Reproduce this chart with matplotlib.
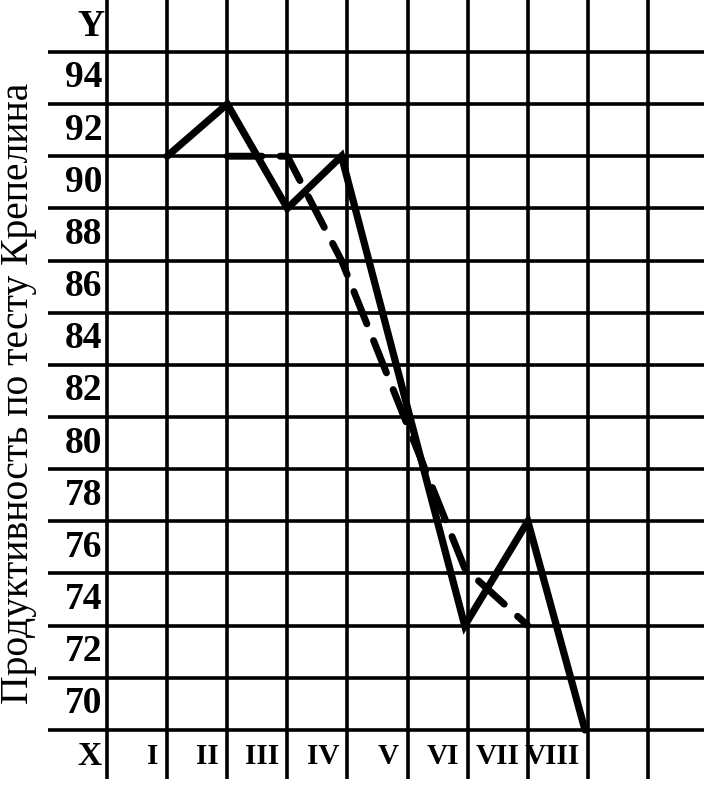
import matplotlib.pyplot as plt

# values
weeks = ['I', 'II', 'III', 'IV', 'V', 'VI', 'VII', 'VIII']
y_labels = [70, 72, 74, 76, 78, 80, 82, 84, 86, 88, 90, 92, 94]

solid_x = [1.5, 2.5, 3.5, 4.4, 6.45, 7.5, 8.45]
solid_y = [91, 93, 89, 91, 73, 77, 69]

dashed_x = [2.5, 3.5, 4.4, 6.45, 7.5]
dashed_y = [91, 91, 87, 75.2, 73]

grid_x = [0.5, 1.5, 2.5, 3.5, 4.5, 5.5, 6.5, 7.5, 8.5, 9.5]
grid_y = [69, 71, 73, 75, 77, 79, 81, 83, 85, 87, 89, 91, 93, 95]

plt.rcParams['font.family'] = ['Liberation Serif', 'DejaVu Serif']

fig = plt.figure(figsize=(7.04, 7.86), dpi=100)
ax = fig.add_axes([0, 0, 1, 1])
ax.set_xlim(-1.28, 10.43)
ax.set_ylim(66.85, 96.99)
ax.axis('off')

# grid of the paper
ax.hlines(grid_y, -0.48, 10.43, color='black', lw=2.6)
ax.vlines(grid_x, 67.1, 96.99, color='black', lw=2.6)

# curves
ax.plot(solid_x, solid_y, color='black', lw=5.2,
        solid_joinstyle='miter', solid_capstyle='round')
ax.plot(dashed_x, dashed_y, color='black', lw=5.0,
        linestyle=(0, (5, 2.6)), dash_capstyle='round')

# axis labels
for v in y_labels:
    ax.text(0.42, v, str(v), ha='right', va='center', fontsize=27,
            fontweight='bold')
ax.text(0.45, 95.96, 'Y', ha='right', va='center', fontsize=27,
        fontweight='bold')

ax.text(0.4, 68.0, 'X', ha='right', va='center', fontsize=24,
        fontweight='bold')
for i, w in enumerate(weeks):
    ax.text(i + 1 + 0.36, 68.0, w, ha='right', va='center', fontsize=21,
            fontweight='bold')

ax.text(-0.98, 81.9, 'Продуктивность по тесту Крепелина', rotation=90,
        ha='center', va='center', fontsize=28.5)

plt.savefig('out.png', dpi=100)
